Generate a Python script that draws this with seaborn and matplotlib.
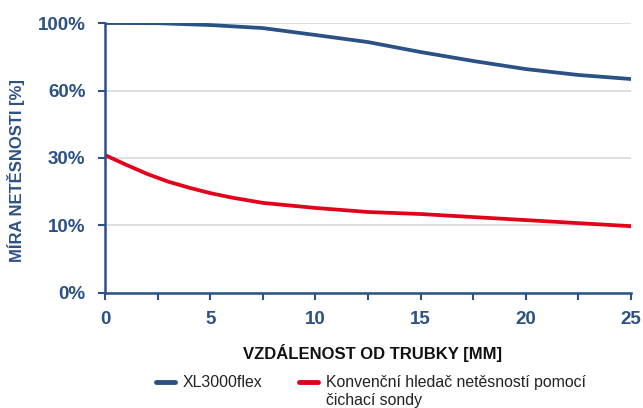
import numpy as np
import pandas as pd
import matplotlib
matplotlib.use("Agg")
import matplotlib.pyplot as plt
import seaborn as sns

# ==========================================
# Data
# ==========================================

xl_dist = [0, 2.5, 5, 7.5, 10, 12.5, 15, 17.5, 20, 22.5, 25]
xl_rate = [100, 99.9, 98.8, 97.0, 92.9, 88.7, 82.8, 77.5, 72.7, 69.2, 66.8]

conv_dist = [0, 1, 2, 3, 4, 5, 6, 7.5, 10, 12.5, 15, 17.5, 20, 22.5, 25]
conv_rate = [31.3, 28.0, 25.3, 23.0, 21.2, 19.6, 18.3, 16.7, 15.2, 14.0, 13.4, 12.5, 11.6, 10.7, 9.9]

y_levels = [0, 10, 30, 60, 100]
y_labels = ["0%", "10%", "30%", "60%", "100%"]

series_names = ["XL3000flex", "Konvenční hledač netěsností pomocí"]
series_extra = "čichací sondy"   # second line of the red legend entry

df = pd.concat([
    pd.DataFrame({"dist": xl_dist, "rate": xl_rate, "series": series_names[0]}),
    pd.DataFrame({"dist": conv_dist, "rate": conv_rate, "series": series_names[1]}),
])

# ==========================================
# Plot
# ==========================================

sns.set_theme(style="white")
plt.rcParams["font.family"] = ["Liberation Sans", "DejaVu Sans"]

blue = "#2c5185"
red = "#e2001a"

fig, ax = plt.subplots(figsize=(6.43, 4.08), dpi=100)
fig.subplots_adjust(left=0.1633, right=0.9813, top=0.9436, bottom=0.2819)

# uneven y-axis: tick levels equally spaced
levels_pos = np.arange(len(y_levels))
fwd = lambda v: np.interp(v, y_levels, levels_pos)
inv = lambda p: np.interp(p, levels_pos, y_levels)
ax.set_yscale("function", functions=(fwd, inv))

sns.lineplot(data=df, x="dist", y="rate", hue="series",
             palette=[blue, red], linewidth=2.7, ax=ax,
             solid_capstyle="round", estimator=None)

ax.set_xlim(0, 25)
ax.set_ylim(0, 100)
ax.set_xticks([0, 5, 10, 15, 20, 25])
ax.set_xticks(np.arange(2.5, 25, 5), minor=True)
ax.set_yticks(y_levels)
ax.set_yticklabels(y_labels)
ax.yaxis.set_minor_locator(matplotlib.ticker.NullLocator())

ax.grid(axis="y", color="#d9d9d9", linewidth=1.2)
ax.set_axisbelow(True)

for side in ["top", "right"]:
    ax.spines[side].set_visible(False)
for side in ["left", "bottom"]:
    ax.spines[side].set_color(blue)
    ax.spines[side].set_linewidth(1.8)

ax.tick_params(which="both", direction="out", length=5, width=1.5, color=blue,
               labelcolor=blue, labelsize=13.5, bottom=True, left=True)
ax.tick_params(axis="x", pad=8)
ax.tick_params(axis="y", pad=9)
for lbl in ax.get_xticklabels() + ax.get_yticklabels():
    lbl.set_fontweight("bold")

ax.set_xlabel("VZDÁLENOST OD TRUBKY [MM]", fontsize=12, fontweight="bold",
              color="#111111")
ax.set_ylabel("MÍRA NETĚSNOSTI [%]", fontsize=12, fontweight="bold",
              color=blue)
ax.xaxis.set_label_coords(0.5095, -0.19)
ax.yaxis.set_label_coords(-0.152, 0.452)

handles, labels = ax.get_legend_handles_labels()
for h in handles:
    h.set_linewidth(3.5)
leg = ax.legend(handles, labels, loc="upper left", bbox_to_anchor=(0.097, -0.305),
                ncol=2, frameon=False, fontsize=11.4, handlelength=1.2,
                handletextpad=0.5, columnspacing=2.3, labelcolor="#222222",
                borderpad=0, borderaxespad=0)

# second line of the red legend label, placed under its first line
fig.canvas.draw()
bb = leg.get_texts()[1].get_window_extent().transformed(fig.transFigure.inverted())
fig.text(bb.x0, bb.y0 - 0.006, series_extra, fontsize=11.4, color="#222222",
         ha="left", va="top")

plt.savefig("out.png", dpi=100)
